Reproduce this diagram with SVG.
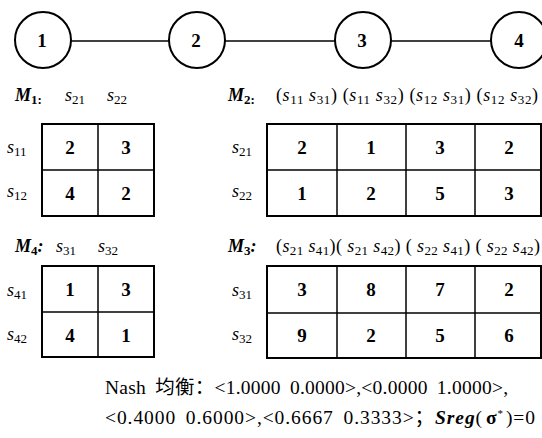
<svg xmlns="http://www.w3.org/2000/svg" width="542" height="438" viewBox="0 0 542 438">
<style>
text{font-family:'Liberation Serif','Times New Roman',serif;fill:#000}
.node circle{fill:#fff;stroke:#000;stroke-width:2}
.nl{font-size:19px;font-weight:bold;text-anchor:middle}
.edge{stroke:#000;stroke-width:1.6}
.tb{fill:none;stroke:#000;stroke-width:2}
.tl{stroke:#000;stroke-width:1.5}
.num{font-size:19px;font-weight:bold;text-anchor:middle}
.s{font-size:18px;font-style:italic}
.sub{font-size:13px;font-style:normal}
.M{font-size:18px;font-style:italic;font-weight:bold}
.txt{font-size:19.5px;word-spacing:4px}
.cjk{font-family:'Liberation Serif','Noto Sans CJK SC',serif}
</style>
<g id="connectors">
<line class="edge" x1="71" y1="41" x2="169" y2="41"/>
<line class="edge" x1="225" y1="41" x2="335" y2="41"/>
<line class="edge" x1="391" y1="41" x2="491" y2="41"/>
</g>
<g id="n1" class="node"><circle cx="43" cy="40" r="28"/><text class="nl" x="42" y="47">1</text></g>
<g id="n2" class="node"><circle cx="197" cy="40" r="28"/><text class="nl" x="196" y="47">2</text></g>
<g id="n3" class="node"><circle cx="363" cy="40" r="28"/><text class="nl" x="362" y="47">3</text></g>
<g id="n4" class="node"><circle cx="519" cy="40" r="28"/><text class="nl" x="519" y="47">4</text></g>

<g id="M1">
<text class="M" x="15" y="101">M<tspan class="sub" dy="3">1:</tspan></text>
<text class="s" x="65" y="101">s<tspan class="sub" dy="3">21</tspan></text>
<text class="s" x="107" y="101">s<tspan class="sub" dy="3">22</tspan></text>
<text class="s" x="7" y="153">s<tspan class="sub" dy="3">11</tspan></text>
<text class="s" x="7" y="197">s<tspan class="sub" dy="3">12</tspan></text>
<rect class="tb" x="42" y="124" width="112" height="92"/>
<line class="tl" x1="98" y1="124" x2="98" y2="216"/>
<line class="tl" x1="42" y1="170" x2="154" y2="170"/>
<text class="num" x="70" y="154">2</text><text class="num" x="126" y="154">3</text>
<text class="num" x="70" y="200">4</text><text class="num" x="126" y="200">2</text>
</g>

<g id="M2">
<text class="M" x="228" y="101">M<tspan class="sub" dy="3">2:</tspan></text>
<text class="s" x="276" y="101" textLength="262" lengthAdjust="spacing"><tspan style="font-style:normal">(</tspan>s<tspan class="sub" dy="3">11</tspan><tspan dy="-3"> s</tspan><tspan class="sub" dy="3">31</tspan><tspan style="font-style:normal" dy="-3">) (</tspan>s<tspan class="sub" dy="3">11</tspan><tspan dy="-3"> s</tspan><tspan class="sub" dy="3">32</tspan><tspan style="font-style:normal" dy="-3">) (</tspan>s<tspan class="sub" dy="3">12</tspan><tspan dy="-3"> s</tspan><tspan class="sub" dy="3">31</tspan><tspan style="font-style:normal" dy="-3">) (</tspan>s<tspan class="sub" dy="3">12</tspan><tspan dy="-3"> s</tspan><tspan class="sub" dy="3">32</tspan><tspan style="font-style:normal" dy="-3">)</tspan></text>
<text class="s" x="232" y="153">s<tspan class="sub" dy="3">21</tspan></text>
<text class="s" x="232" y="197">s<tspan class="sub" dy="3">22</tspan></text>
<rect class="tb" x="267" y="124" width="274" height="92"/>
<line class="tl" x1="337" y1="124" x2="337" y2="216"/>
<line class="tl" x1="406" y1="124" x2="406" y2="216"/>
<line class="tl" x1="475" y1="124" x2="475" y2="216"/>
<line class="tl" x1="267" y1="170" x2="541" y2="170"/>
<text class="num" x="302" y="154">2</text><text class="num" x="371" y="154">1</text><text class="num" x="440" y="154">3</text><text class="num" x="509" y="154">2</text>
<text class="num" x="302" y="200">1</text><text class="num" x="371" y="200">2</text><text class="num" x="440" y="200">5</text><text class="num" x="509" y="200">3</text>
</g>

<g id="M4">
<text class="M" x="15" y="252">M<tspan class="sub" dy="3">4</tspan><tspan dy="-3">:</tspan></text>
<text class="s" x="56" y="252">s<tspan class="sub" dy="3">31</tspan></text>
<text class="s" x="98" y="252">s<tspan class="sub" dy="3">32</tspan></text>
<text class="s" x="7" y="296">s<tspan class="sub" dy="3">41</tspan></text>
<text class="s" x="7" y="340">s<tspan class="sub" dy="3">42</tspan></text>
<rect class="tb" x="42" y="266" width="112" height="91"/>
<line class="tl" x1="98" y1="266" x2="98" y2="357"/>
<line class="tl" x1="42" y1="312" x2="154" y2="312"/>
<text class="num" x="70" y="296">1</text><text class="num" x="126" y="296">3</text>
<text class="num" x="70" y="342">4</text><text class="num" x="126" y="342">1</text>
</g>

<g id="M3">
<text class="M" x="228" y="252">M<tspan class="sub" dy="3">3</tspan><tspan dy="-3">:</tspan></text>
<text class="s" x="276" y="252" textLength="264" lengthAdjust="spacing"><tspan style="font-style:normal">(</tspan>s<tspan class="sub" dy="3">21</tspan><tspan dy="-3"> s</tspan><tspan class="sub" dy="3">41</tspan><tspan style="font-style:normal" dy="-3">)( </tspan>s<tspan class="sub" dy="3">21</tspan><tspan dy="-3"> s</tspan><tspan class="sub" dy="3">42</tspan><tspan style="font-style:normal" dy="-3">) ( </tspan>s<tspan class="sub" dy="3">22</tspan><tspan dy="-3"> s</tspan><tspan class="sub" dy="3">41</tspan><tspan style="font-style:normal" dy="-3">) ( </tspan>s<tspan class="sub" dy="3">22</tspan><tspan dy="-3"> s</tspan><tspan class="sub" dy="3">42</tspan><tspan style="font-style:normal" dy="-3">)</tspan></text>
<text class="s" x="232" y="296">s<tspan class="sub" dy="3">31</tspan></text>
<text class="s" x="232" y="340">s<tspan class="sub" dy="3">32</tspan></text>
<rect class="tb" x="267" y="266" width="274" height="92"/>
<line class="tl" x1="337" y1="266" x2="337" y2="358"/>
<line class="tl" x1="406" y1="266" x2="406" y2="358"/>
<line class="tl" x1="475" y1="266" x2="475" y2="358"/>
<line class="tl" x1="267" y1="313" x2="541" y2="313"/>
<text class="num" x="302" y="296">3</text><text class="num" x="371" y="296">8</text><text class="num" x="440" y="296">7</text><text class="num" x="509" y="296">2</text>
<text class="num" x="302" y="342">9</text><text class="num" x="371" y="342">2</text><text class="num" x="440" y="342">5</text><text class="num" x="509" y="342">6</text>
</g>

<g id="result">
<text class="txt" x="105" y="394" textLength="403" lengthAdjust="spacing">Nash <tspan class="cjk">均衡：</tspan>&lt;1.0000 0.0000&gt;,&lt;0.0000 1.0000&gt;,</text>
<text class="txt" x="105" y="424" textLength="430" lengthAdjust="spacing">&lt;0.4000 0.6000&gt;,&lt;0.6667 0.3333&gt;<tspan class="cjk">；</tspan><tspan font-style="italic" font-weight="bold">Sreg</tspan>(<tspan font-weight="bold" dx="3">σ</tspan><tspan font-size="11" dy="-7">*</tspan><tspan dy="7" dx="2">)=0</tspan></text>
</g>
</svg>
